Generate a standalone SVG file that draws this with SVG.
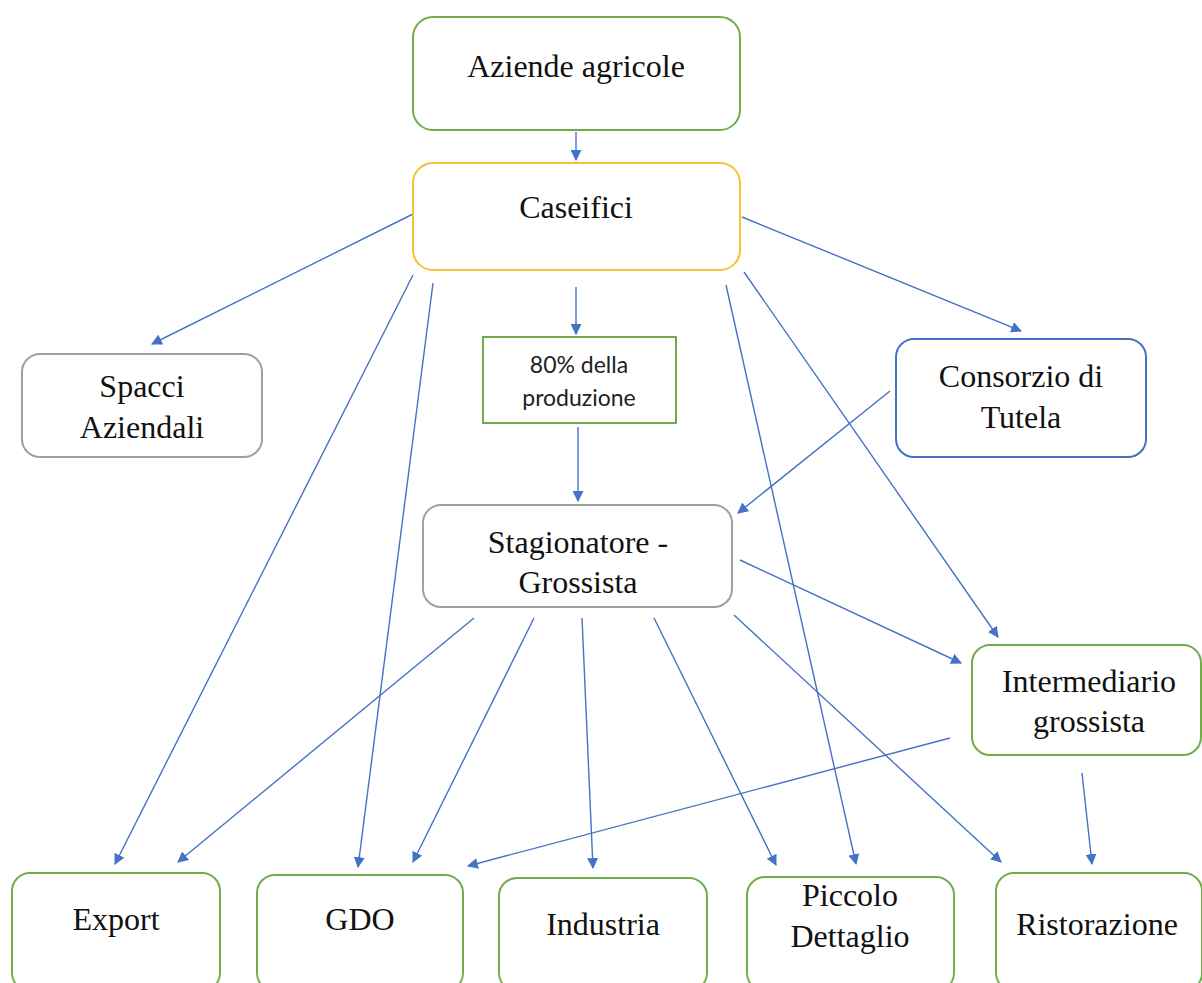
<svg xmlns="http://www.w3.org/2000/svg" width="1202" height="983" viewBox="0 0 1202 983">
<style>
.box{fill:#fff;stroke-width:2}
.g{stroke:#70AD47}
.y{stroke:#F4C232}
.gr{stroke:#A0A0A0}
.b{stroke:#4472C4}
.t{font-family:"Liberation Serif","Times New Roman",serif;font-size:32px;fill:#111;text-anchor:middle}
.s{font-family:Lato,"Open Sans",sans-serif;font-size:23px;fill:#222;text-anchor:middle}
.c line{stroke:#4472C4;stroke-width:1.4;marker-end:url(#ah)}
</style>
<defs>
<marker id="ah" viewBox="0 0 10 10" refX="9" refY="5" markerWidth="11" markerHeight="11" markerUnits="userSpaceOnUse" orient="auto">
<path d="M0,0 L10,5 L0,10 z" fill="#4472C4"/>
</marker>
</defs>
<rect width="1202" height="983" fill="#fff"/>
<g class="c" id="connectors">
<line x1="576" y1="132" x2="576" y2="160"/>
<line x1="413" y1="214" x2="152" y2="344"/>
<line x1="413" y1="275" x2="115" y2="864"/>
<line x1="433" y1="283" x2="358" y2="867"/>
<line x1="576" y1="287" x2="576" y2="334"/>
<line x1="578" y1="427" x2="578" y2="501"/>
<line x1="742" y1="217" x2="1021" y2="331"/>
<line x1="726" y1="285" x2="856" y2="864"/>
<line x1="744" y1="272" x2="998" y2="637"/>
<line x1="890" y1="391" x2="738" y2="513"/>
<line x1="740" y1="560" x2="961" y2="663"/>
<line x1="474" y1="618" x2="178" y2="862"/>
<line x1="534" y1="618" x2="413" y2="862"/>
<line x1="582" y1="618" x2="593" y2="868"/>
<line x1="654" y1="618" x2="776" y2="865"/>
<line x1="734" y1="615" x2="1001" y2="862"/>
<line x1="950" y1="738" x2="468" y2="866"/>
<line x1="1082" y1="773" x2="1092" y2="864"/>
</g>
<g id="aziende"><rect class="box g" x="413" y="17" width="327" height="113" rx="20"/><text class="t" x="576" y="77">Aziende agricole</text></g>
<g id="caseifici"><rect class="box y" x="413" y="163" width="327" height="107" rx="20"/><text class="t" x="576" y="218">Caseifici</text></g>
<g id="spacci"><rect class="box gr" x="22" y="354" width="240" height="103" rx="18"/><text class="t" x="142" y="397">Spacci</text><text class="t" x="142" y="438">Aziendali</text></g>
<g id="ottanta"><rect class="box g" x="483" y="337" width="193" height="86"/><text class="s" x="579" y="373">80% della</text><text class="s" x="579" y="406">produzione</text></g>
<g id="consorzio"><rect class="box b" x="896" y="339" width="250" height="118" rx="18"/><text class="t" x="1021" y="387">Consorzio di</text><text class="t" x="1021" y="428">Tutela</text></g>
<g id="stagionatore"><rect class="box gr" x="423" y="505" width="309" height="102" rx="18"/><text class="t" x="578" y="553">Stagionatore -</text><text class="t" x="578" y="593">Grossista</text></g>
<g id="intermediario"><rect class="box g" x="972" y="645" width="229" height="110" rx="18"/><text class="t" x="1089" y="692">Intermediario</text><text class="t" x="1089" y="732">grossista</text></g>
<g id="export"><rect class="box g" x="12" y="873" width="208" height="118" rx="18"/><text class="t" x="116" y="930">Export</text></g>
<g id="gdo"><rect class="box g" x="257" y="875" width="206" height="116" rx="18"/><text class="t" x="360" y="930">GDO</text></g>
<g id="industria"><rect class="box g" x="499" y="878" width="208" height="113" rx="18"/><text class="t" x="603" y="935">Industria</text></g>
<g id="piccolo"><rect class="box g" x="747" y="877" width="207" height="114" rx="18"/><text class="t" x="850" y="906">Piccolo</text><text class="t" x="850" y="947">Dettaglio</text></g>
<g id="ristorazione"><rect class="box g" x="996" y="873" width="206" height="118" rx="18"/><text class="t" x="1097" y="935">Ristorazione</text></g>
</svg>
